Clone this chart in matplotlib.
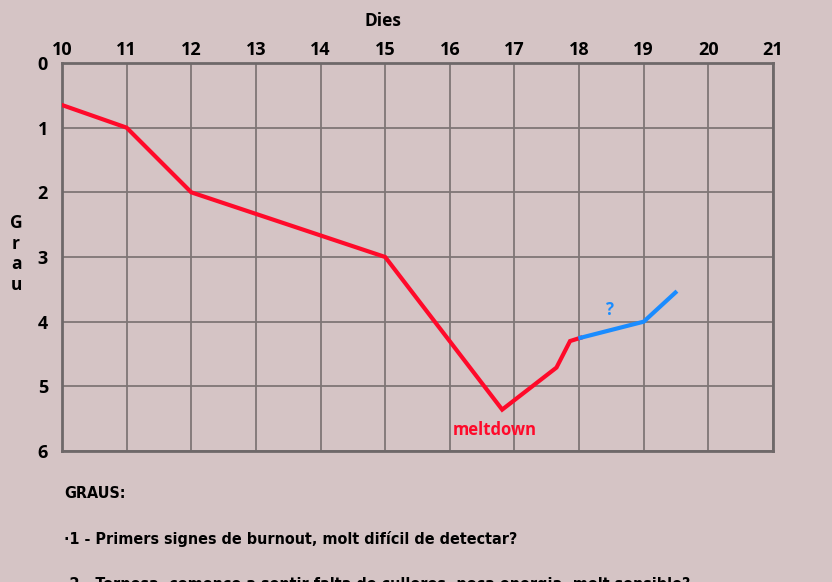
import matplotlib.pyplot as plt

# dies / grau
red_days = [10, 11, 12, 15, 16.81, 17.65, 17.86, 18.02]
red_grau = [0.65, 1.0, 2.0, 3.0, 5.36, 4.71, 4.30, 4.25]
blue_days = [18.02, 19.0, 19.49]
blue_grau = [4.25, 4.0, 3.55]
x_ticks = list(range(10, 22))
y_ticks = list(range(0, 7))
graus = [
    "GRAUS:",
    "·1 - Primers signes de burnout, molt difícil de detectar?",
    "·2 - Torpesa, començo a sentir falta de culleres, poca energia, molt sensible?",
]

bg = '#d5c4c5'
plt.rcParams['font.family'] = ['Open Sans', 'DejaVu Sans']
plt.rcParams['font.weight'] = 'bold'

fig = plt.figure(figsize=(8.32, 5.82), dpi=100, facecolor=bg)
ax = fig.add_axes([62 / 832, 1 - 451 / 582, 711 / 832, 388 / 582])
ax.set_facecolor(bg)

ax.plot(red_days, red_grau, color='#ff0a2a', lw=3, solid_joinstyle='miter', zorder=3)
ax.plot(blue_days, blue_grau, color='#1a8cff', lw=3, zorder=3)

ax.set_xlim(10, 21)
ax.set_ylim(6, 0)
ax.set_xticks(x_ticks)
ax.set_yticks(y_ticks)
ax.xaxis.tick_top()
ax.tick_params(length=0, labelsize=13, pad=3)
ax.tick_params(axis='y', pad=10)
for lab in ax.get_xticklabels() + ax.get_yticklabels():
    lab.set_fontweight('bold')
ax.grid(True, color='#7f7676', lw=1.3)
for sp in ax.spines.values():
    sp.set_color('#6e6869')
    sp.set_linewidth(2)

ax.text(16.7, 5.68, 'meltdown', color='#ff0a2a', ha='center', va='center',
        fontsize=12, fontweight='bold')
ax.text(18.48, 3.82, '?', color='#1a8cff', ha='center', va='center',
        fontsize=12, fontweight='bold')

fig.text(383 / 832, 1 - 21 / 582, 'Dies', ha='center', va='center',
         fontsize=12.5, fontweight='bold')
fig.text(16 / 832, 1 - 254 / 582, 'G\nr\na\nu', ha='center', va='center',
         fontsize=12.5, fontweight='bold', linespacing=1.2)

for i, t in enumerate(graus):
    fig.text(64 / 832, 1 - (494 + 45 * i) / 582, t, ha='left', va='center',
             fontsize=11.5, fontweight='bold', fontstretch='condensed',
             family=['DejaVu Sans'])

fig.savefig('out.png', dpi=100, facecolor=bg)
